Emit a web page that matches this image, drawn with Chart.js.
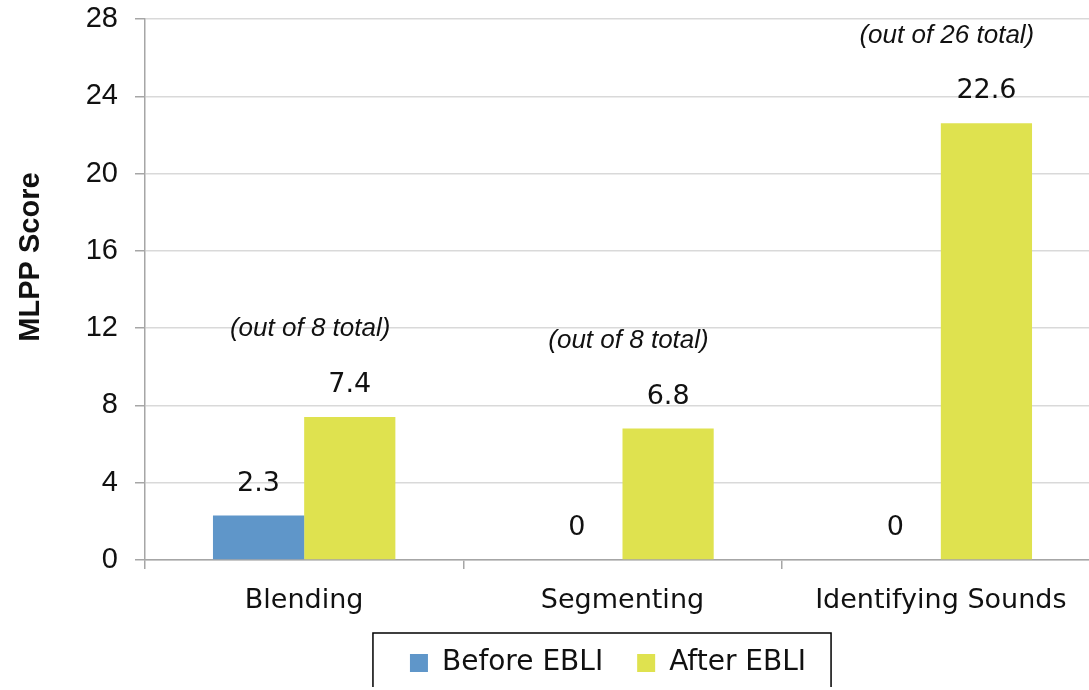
<!DOCTYPE html>
<html>
<head>
<meta charset="utf-8">
<script src="https://cdn.jsdelivr.net/npm/chart.js@4.4.1/dist/chart.umd.min.js"></script>
<style>
  html, body { margin: 0; padding: 0; background: #fff; overflow: hidden; }
  #wrap { width: 1100px; height: 687px; position: relative; }
</style>
</head>
<body>
<div id="wrap"><canvas id="chart"></canvas></div>
<script>
// chart values
var categories = ['Blending', 'Segmenting', 'Identifying Sounds'];
var beforeScores = [2.3, 0, 0];
var afterScores = [7.4, 6.8, 22.6];
var totalNotes = ['(out of 8 total)', '(out of 8 total)', '(out of 26 total)'];
var seriesNames = ['Before EBLI', 'After EBLI'];

var labelFont = '"DejaVu Sans", sans-serif';
var arialFont = '"Liberation Sans", Arial, sans-serif';

// value labels + notes above bars, y title, and border round the legend
var barLabels = {
  id: 'barLabels',
  afterLayout: function(chart) {
    // legend sits a bit right of centre in the original
    chart.legend.left += 58;
    chart.legend.right += 58;
  },
  afterDatasetsDraw: function(chart) {
    var ctx = chart.ctx;
    var xScale = chart.scales.x;
    ctx.save();
    ctx.fillStyle = '#111';
    ctx.textAlign = 'center';
    ctx.textBaseline = 'middle';
    chart.data.datasets.forEach(function(ds, i) {
      var meta = chart.getDatasetMeta(i);
      meta.data.forEach(function(bar, j) {
        ctx.font = '27px ' + labelFont;
        ctx.fillText(String(ds.data[j]), bar.x, bar.y - 32);
        if (i == 1) {
          ctx.font = 'italic 26px ' + arialFont;
          ctx.fillText(totalNotes[j], xScale.getPixelForValue(j) + 6, bar.y - 88);
        }
      });
    });
    // axis title
    var area = chart.chartArea;
    ctx.translate(31, area.top + (area.bottom - area.top) * 0.44);
    ctx.rotate(-Math.PI / 2);
    ctx.font = 'bold 29px ' + arialFont;
    ctx.fillText('MLPP Score', 0, 0);
    ctx.restore();
  },
  afterDraw: function(chart) {
    var boxes = chart.legend.legendHitBoxes;
    if (!boxes || !boxes.length) return;
    var first = boxes[0], last = boxes[boxes.length - 1];
    var ctx = chart.ctx;
    var mid = first.top + first.height / 2;
    ctx.save();
    ctx.strokeStyle = '#000';
    ctx.lineWidth = 1.5;
    ctx.strokeRect(first.left - 37, mid - 30, (last.left + last.width + 25) - (first.left - 37), 100);
    ctx.restore();
  }
};

var ctx = document.getElementById('chart').getContext('2d');
window.scoreChart = new Chart(ctx, {
  type: 'bar',
  data: {
    labels: categories,
    datasets: [{
      label: seriesNames[0],
      backgroundColor: '#5f96c9',
      borderWidth: 0,
      data: beforeScores
    }, {
      label: seriesNames[1],
      backgroundColor: '#dfe24f',
      borderWidth: 0,
      data: afterScores
    }]
  },
  options: {
    responsive: true,
    maintainAspectRatio: false,
    animation: false,
    layout: {
      padding: { top: 19, right: 0, bottom: 0, left: 0 }
    },
    datasets: {
      bar: { barPercentage: 1, categoryPercentage: 0.573 }
    },
    plugins: {
      legend: {
        position: 'bottom',
        labels: {
          boxWidth: 18,
          boxHeight: 18,
          padding: 34,
          color: '#111',
          font: { size: 28, family: labelFont }
        }
      },
      tooltip: { enabled: false }
    },
    scales: {
      x: {
        grid: {
          offset: true,
          drawOnChartArea: false,
          drawTicks: true,
          tickLength: 9,
          tickColor: '#a6a6a6',
          lineWidth: 1.5
        },
        border: { color: '#a6a6a6', width: 1.5 },
        ticks: {
          color: '#111',
          padding: 16,
          font: { size: 27, family: labelFont }
        },
        afterFit: function(scale) { scale.height = 55; }
      },
      y: {
        min: 0,
        max: 28,
        ticks: {
          stepSize: 4,
          color: '#111',
          padding: 17,
          font: { size: 29, family: arialFont }
        },
        grid: {
          color: '#d9d9d9',
          lineWidth: 1.5,
          tickLength: 10,
          tickColor: '#a6a6a6'
        },
        border: { color: '#a6a6a6', width: 1.5 },
        afterFit: function(scale) {
          scale.width = 145;
          scale.paddingTop = 0;
        }
      }
    }
  },
  plugins: [barLabels]
});
</script>
</body>
</html>
